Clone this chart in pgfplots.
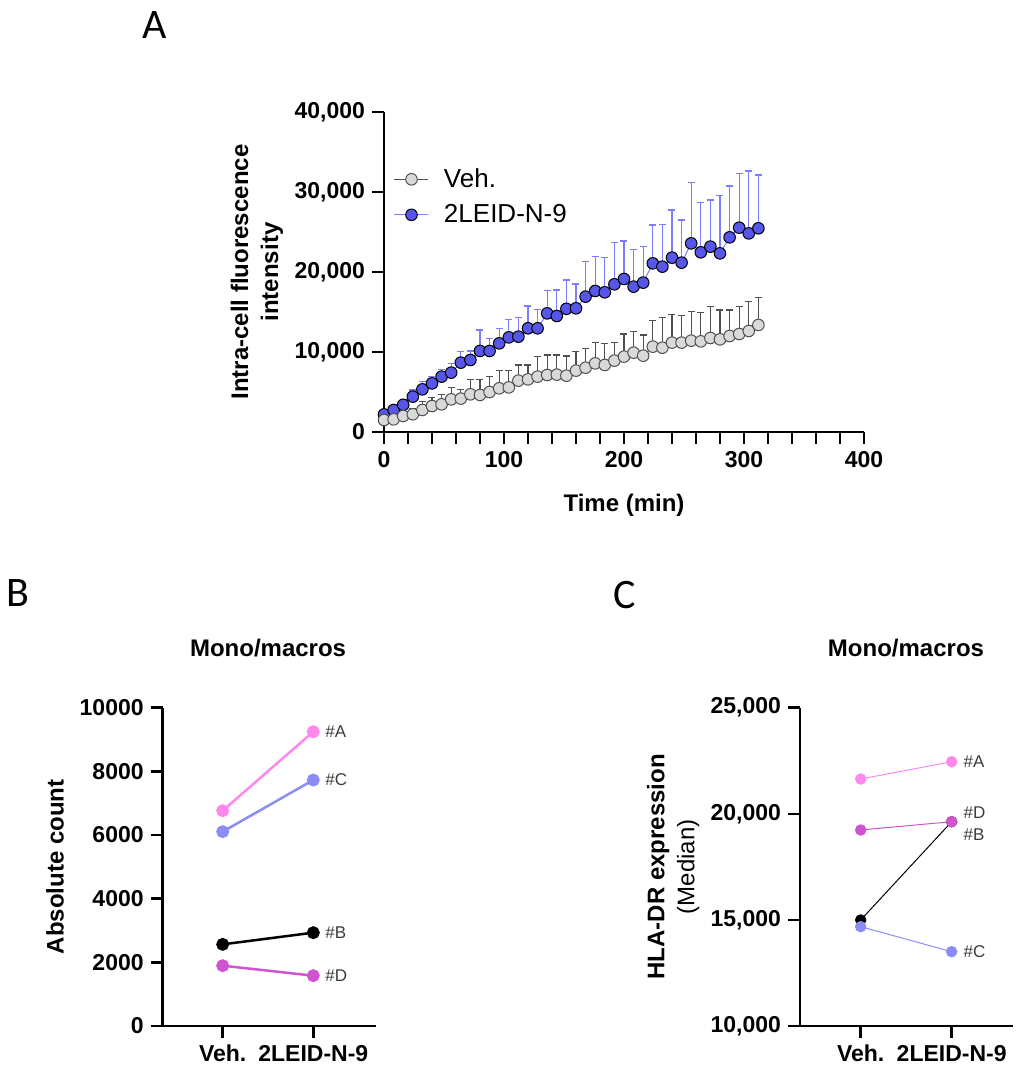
\documentclass[border=0pt]{standalone}
\usepackage{fontspec}
\setmainfont{Liberation Sans}
\newfontfamily\panelfont{Carlito}
\usepackage{pgfplots}
\pgfplotsset{compat=1.18}
\usepackage{pgfplotstable}

\definecolor{drugfill}{RGB}{86,86,232}
\definecolor{drugbar}{RGB}{125,125,255}
\definecolor{vehfill}{RGB}{217,217,217}
\definecolor{vehedge}{RGB}{80,80,80}
\definecolor{donorA}{RGB}{255,136,238}
\definecolor{donorB}{RGB}{0,0,0}
\definecolor{donorC}{RGB}{140,140,245}
\definecolor{donorD}{RGB}{208,84,208}
\definecolor{tagtext}{RGB}{60,60,60}

% intracellular fluorescence: mean and upper SD, every 8 min
\pgfplotstableread{
t   veh   vehe  drug  druge
0   1500  300   2200  300
8   1580  350   2750  400
16  2000  500   3400  600
24  2210  700   4420  830
32  2750  1040  5330  960
40  3250  1080  6080  830
48  3460  1250  6920  920
56  4080  1500  7420  1170
64  4170  1170  8670  1370
72  4710  1880  9000  1130
80  4630  1960  10130 2620
88  5000  1920  10130 1580
96  5460  2210  11080 1880
104 5580  2080  11830 2250
112 6420  1960  11920 2420
120 6580  1790  12960 2790
128 6920  2500  12960 2370
136 7130  2500  14830 2840
144 7170  2460  14500 3250
152 7040  2460  15400 3600
160 7670  2380  15460 3040
168 8040  2420  16920 4370
176 8580  2630  17630 4290
184 8380  2710  17460 4370
192 8920  2290  18460 5250
200 9420  2830  19130 4750
208 9920  2630  18170 4660
216 9540  2580  18670 4500
224 10670 3250  21080 4790
232 10540 3750  20670 5290
240 11170 3500  21790 5960
248 11170 3420  21170 5330
256 11420 3630  23580 7590
264 11330 3580  22460 6210
272 11750 3920  23170 5830
280 11580 3670  22330 7210
288 12000 3250  24330 6420
296 12250 3420  25540 6790
304 12630 3670  24830 7790
312 13380 3460  25460 6670
}\kinetics

\tikzset{
  tag/.style={anchor=west, inner sep=0pt, xshift=5.8pt,
    font=\fontsize{8.5}{10}\selectfont, text=tagtext},
  letter/.style={font=\fontsize{21}{24}\selectfont\panelfont},
}

\pgfplotsset{
  prism/.style={
    scale only axis,
    anchor=south west,
    axis lines=left,
    axis line style={-, line width=1.3pt, black},
    tick align=outside,
    major tick length=6pt,
    minor tick length=6pt,
    tick style={line width=1.3pt, black},
    tick label style={font=\fontsize{11.5}{13.8}\selectfont\bfseries},
    /pgf/number format/assume math mode=true,
    label style={font=\fontsize{12}{15}\selectfont\bfseries},
    title style={font=\fontsize{12}{15}\selectfont\bfseries},
    scaled y ticks=false,
    clip=false,
  },
  drugstyle/.style={
    color=drugbar, line width=0.5pt, mark=*, mark size=2.9pt,
    mark options={fill=drugfill, draw=black, line width=0.5pt, solid},
  },
  vehstyle/.style={
    color=vehedge, line width=0.5pt, mark=*, mark size=2.9pt,
    mark options={fill=vehfill, draw=vehedge, line width=0.5pt, solid},
  },
  pair/.style={line width=#1, mark=*, mark size=2.6pt},
}

\begin{document}
\begin{tikzpicture}
\useasboundingbox (0,0) rectangle (513pt,539pt);

% panel letters
\node[letter] at (77.5pt,526.5pt) {A};
\node[letter] at (9pt,242.5pt) {B};
\node[letter] at (312.5pt,241.5pt) {C};

% ---------- A: uptake kinetics ----------
\begin{axis}[prism,
  at={(192pt,323pt)}, width=240pt, height=160pt,
  xmin=0, xmax=400, ymin=0, ymax=40000,
  xtick={0,100,...,400}, minor x tick num=4,
  ytick={0,10000,...,40000},
  y tick label style={/pgf/number format/1000 sep={,}},
  xlabel={Time (min)},
  xlabel style={at={(axis description cs:0.5,-0.228)}, anchor=center},
  ylabel={Intra-cell fluorescence\\intensity},
  ylabel style={at={(axis description cs:-0.265,0.5)}, anchor=center, align=center},
  legend style={draw=none, fill=none, at={(axis cs:3,34000)}, anchor=north west,
    font=\fontsize{13}{15}\selectfont, row sep=3pt, cells={anchor=west},
    nodes={inner xsep=7.5pt}},
  legend image code/.code={%
    \draw[mark repeat=2, mark phase=2, #1]
      plot coordinates {(0pt,0pt) (8.5pt,0pt) (17pt,0pt)};},
]
\addplot[drugstyle, forget plot,
  error bars/.cd, y dir=plus, y explicit,
  error bar style={color=drugbar, line width=0.6pt, solid},
  error mark options={rotate=90, mark size=1.75pt, color=drugbar, line width=0.6pt}]
  table[x=t, y=drug, y error=druge] {\kinetics};
\addplot[vehstyle,
  error bars/.cd, y dir=plus, y explicit,
  error bar style={color=vehedge, line width=0.6pt, solid},
  error mark options={rotate=90, mark size=1.75pt, color=vehedge, line width=0.6pt}]
  table[x=t, y=veh, y error=vehe] {\kinetics};
\addlegendentry{Veh.}
\addlegendimage{drugstyle}
\addlegendentry{2LEID-N-9}
\end{axis}

% ---------- B: absolute count ----------
\begin{axis}[prism,
  at={(81.35pt,26pt)}, width=106.65pt, height=159.15pt,
  xmin=-0.662, xmax=1.692, ymin=0, ymax=10000,
  xtick={0,1}, xticklabels={Veh.,2LEID-N-9},
  ytick={0,2000,...,10000},
  y tick label style={/pgf/number format/1000 sep={}},
  title={Mono/macros},
  title style={at={(axis description cs:0.494,1.150)}, anchor=center},
  ylabel={Absolute count},
  ylabel style={at={(axis description cs:-0.505,0.5)}, anchor=center},
]
\addplot[donorB, pair=1.25pt] coordinates {(0,2565) (1,2932)};
\addplot[donorD, pair=1.25pt] coordinates {(0,1895) (1,1581)};
\addplot[donorC, pair=1.25pt] coordinates {(0,6105) (1,7728)};
\addplot[donorA, pair=1.25pt] coordinates {(0,6764) (1,9246)};
\node[tag] at (axis cs:1,9246) {\#A};
\node[tag] at (axis cs:1,7728) {\#C};
\node[tag] at (axis cs:1,2932) {\#B};
\node[tag] at (axis cs:1,1581) {\#D};
\end{axis}

% ---------- C: HLA-DR median ----------
\begin{axis}[prism,
  at={(400pt,26pt)}, width=106.65pt, height=159.15pt,
  xmin=-0.667, xmax=1.677, ymin=10000, ymax=25000,
  xtick={0,1}, xticklabels={Veh.,2LEID-N-9},
  ytick={10000,15000,20000,25000},
  y tick label style={/pgf/number format/1000 sep={,}},
  title={Mono/macros},
  title style={at={(axis description cs:0.497,1.150)}, anchor=center},
  ylabel={HLA-DR expression\\\mdseries (Median)},
  ylabel style={at={(axis description cs:-0.595,0.5)}, anchor=center, align=center},
]
\addplot[donorB, pair=0.5pt] coordinates {(0,14995) (1,19628)};
\addplot[donorC, pair=0.5pt] coordinates {(0,14681) (1,13503)};
\addplot[donorD, pair=0.5pt] coordinates {(0,19236) (1,19628)};
\addplot[donorA, pair=0.5pt] coordinates {(0,21639) (1,22455)};
\node[tag] at (axis cs:1,22455) {\#A};
\node[tag, yshift=4.7pt] at (axis cs:1,19628) {\#D};
\node[tag, yshift=-6.6pt] at (axis cs:1,19628) {\#B};
\node[tag] at (axis cs:1,13503) {\#C};
\end{axis}
\end{tikzpicture}
\end{document}
